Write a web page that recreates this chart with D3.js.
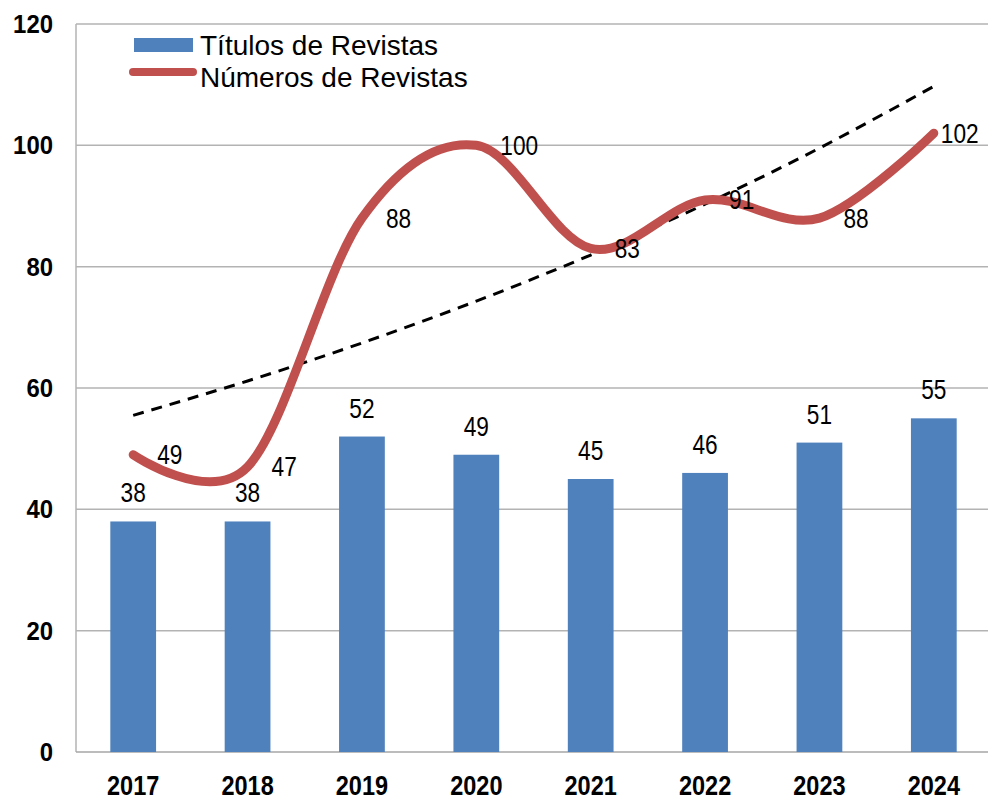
<!DOCTYPE html>
<html>
<head>
<meta charset="utf-8">
<script src="https://cdn.jsdelivr.net/npm/d3@7/dist/d3.min.js"></script>
<style>
  body { margin: 0; background: #fff; }
  .num { font-family: "Liberation Sans Narrow", "Arial Narrow", "Liberation Sans", Arial, sans-serif; }
  .leg { font-family: "Liberation Sans", Arial, sans-serif; }
</style>
</head>
<body>
<svg id="chart" width="988" height="801"></svg>
<script>
// data
const years = ["2017", "2018", "2019", "2020", "2021", "2022", "2023", "2024"];
const titulos = [38, 38, 52, 49, 45, 46, 51, 55];
const numeros = [49, 47, 88, 100, 83, 91, 88, 102];
const yTicks = [0, 20, 40, 60, 80, 100, 120];
const legendNames = ["Títulos de Revistas", "Números de Revistas"];

const blue = "#4f81bd";
const red = "#c0504d";
const grid = "#b3b3b3";

const svg = d3.select("#chart");

const plotLeft = 76, plotRight = 991, plotTop = 24, plotBottom = 752;

let x = d3.scaleBand().domain(years).range([plotLeft, plotRight]).paddingInner(0.6).paddingOuter(0.3);
let y = d3.scaleLinear().domain([0, 120]).range([plotBottom, plotTop]);
let cx = d => x(d) + x.bandwidth() / 2;

// squeeze text a bit, the original uses a narrow font
function condense(sel, k) {
    sel.each(function () {
        let w = this.getComputedTextLength();
        d3.select(this).attr("textLength", w * k).attr("lengthAdjust", "spacingAndGlyphs");
    });
}

// exponential trendline (like Excel), least squares on ln(y)
function expFit(vals) {
    let n = vals.length;
    let xs = vals.map((v, i) => i + 1);
    let ls = vals.map(v => Math.log(v));
    let mx = d3.mean(xs), ml = d3.mean(ls);
    let sxy = 0, sxx = 0;
    for (let i = 0; i < n; i++) {
        sxy += (xs[i] - mx) * (ls[i] - ml);
        sxx += (xs[i] - mx) * (xs[i] - mx);
    }
    let b = sxy / sxx;
    let a = Math.exp(ml - b * mx);
    return xs.map(xx => a * Math.exp(b * xx));
}
const trend = expFit(numeros);

// gridlines
svg.append("g").selectAll("line")
    .data(yTicks.filter(t => t > 0))
    .join("line")
    .attr("x1", plotLeft).attr("x2", 988)
    .attr("y1", d => y(d)).attr("y2", d => y(d))
    .attr("stroke", grid).attr("stroke-width", 1.5);

// plot frame left + bottom
svg.append("line").attr("x1", plotLeft).attr("x2", plotLeft).attr("y1", plotTop).attr("y2", plotBottom)
    .attr("stroke", grid).attr("stroke-width", 1.5);
svg.append("line").attr("x1", plotLeft).attr("x2", 988).attr("y1", plotBottom).attr("y2", plotBottom)
    .attr("stroke", "#a6a6a6").attr("stroke-width", 1.5);

// y labels
const yAxis = d3.axisLeft(y).tickValues(yTicks).tickSize(0).tickPadding(0);
let gy = svg.append("g").attr("transform", "translate(53,0)").call(yAxis);
gy.select(".domain").remove();
gy.selectAll("text")
    .attr("class", "num")
    .attr("font-size", 26).attr("font-weight", "bold").attr("fill", "#000")
    .attr("dy", "0.33em")
    .call(condense, 0.92);

// x labels
const xAxis = d3.axisBottom(x).tickSize(0).tickPadding(0);
let gx = svg.append("g").attr("transform", "translate(0,775)").call(xAxis);
gx.select(".domain").remove();
gx.selectAll("text")
    .attr("class", "num")
    .attr("font-size", 28).attr("font-weight", "bold").attr("fill", "#000")
    .attr("dy", "0.71em")
    .call(condense, 0.84);

// bars
svg.append("g").selectAll("rect")
    .data(titulos)
    .join("rect")
    .attr("x", (d, i) => x(years[i]))
    .attr("y", d => y(d))
    .attr("width", x.bandwidth())
    .attr("height", d => y(0) - y(d))
    .attr("fill", blue);

svg.append("g").selectAll("text")
    .data(titulos)
    .join("text")
    .attr("class", "num")
    .attr("x", (d, i) => cx(years[i]))
    .attr("y", d => y(d) - 19)
    .attr("text-anchor", "middle")
    .attr("font-size", 27)
    .text(d => d)
    .call(condense, 0.84);

// trendline
let trendLine = d3.line()
    .x((d, i) => cx(years[i]))
    .y(d => y(d))
    .curve(d3.curveNatural);
svg.append("path")
    .attr("d", trendLine(trend))
    .attr("fill", "none")
    .attr("stroke", "#000")
    .attr("stroke-width", 3)
    .attr("stroke-dasharray", "11,8");

// smoothed red line
let redLine = d3.line()
    .x((d, i) => cx(years[i]))
    .y(d => y(d))
    .curve(d3.curveCatmullRom.alpha(0));
svg.append("path")
    .attr("d", redLine(numeros))
    .attr("fill", "none")
    .attr("stroke", red)
    .attr("stroke-width", 9)
    .attr("stroke-linecap", "round");

// last label is pulled in so it stays inside the picture
svg.append("g").selectAll("text")
    .data(numeros)
    .join("text")
    .attr("class", "num")
    .attr("x", (d, i) => cx(years[i]) + (i === numeros.length - 1 ? 7 : 24))
    .attr("y", d => y(d))
    .attr("dy", "0.35em")
    .attr("font-size", 27)
    .text(d => d)
    .call(condense, 0.84);

// legend
let leg = svg.append("g");
leg.append("rect").attr("x", 134).attr("y", 38).attr("width", 59).attr("height", 14).attr("fill", blue);
leg.append("line").attr("x1", 133).attr("x2", 193).attr("y1", 72).attr("y2", 72)
    .attr("stroke", red).attr("stroke-width", 8).attr("stroke-linecap", "round");
leg.selectAll("text.leg")
    .data(legendNames)
    .join("text")
    .attr("class", "leg")
    .attr("x", 200)
    .attr("y", (d, i) => 45 + i * 32)
    .attr("dy", "0.35em")
    .attr("font-size", 28)
    .attr("fill", "#000")
    .text(d => d);
</script>
</body>
</html>
